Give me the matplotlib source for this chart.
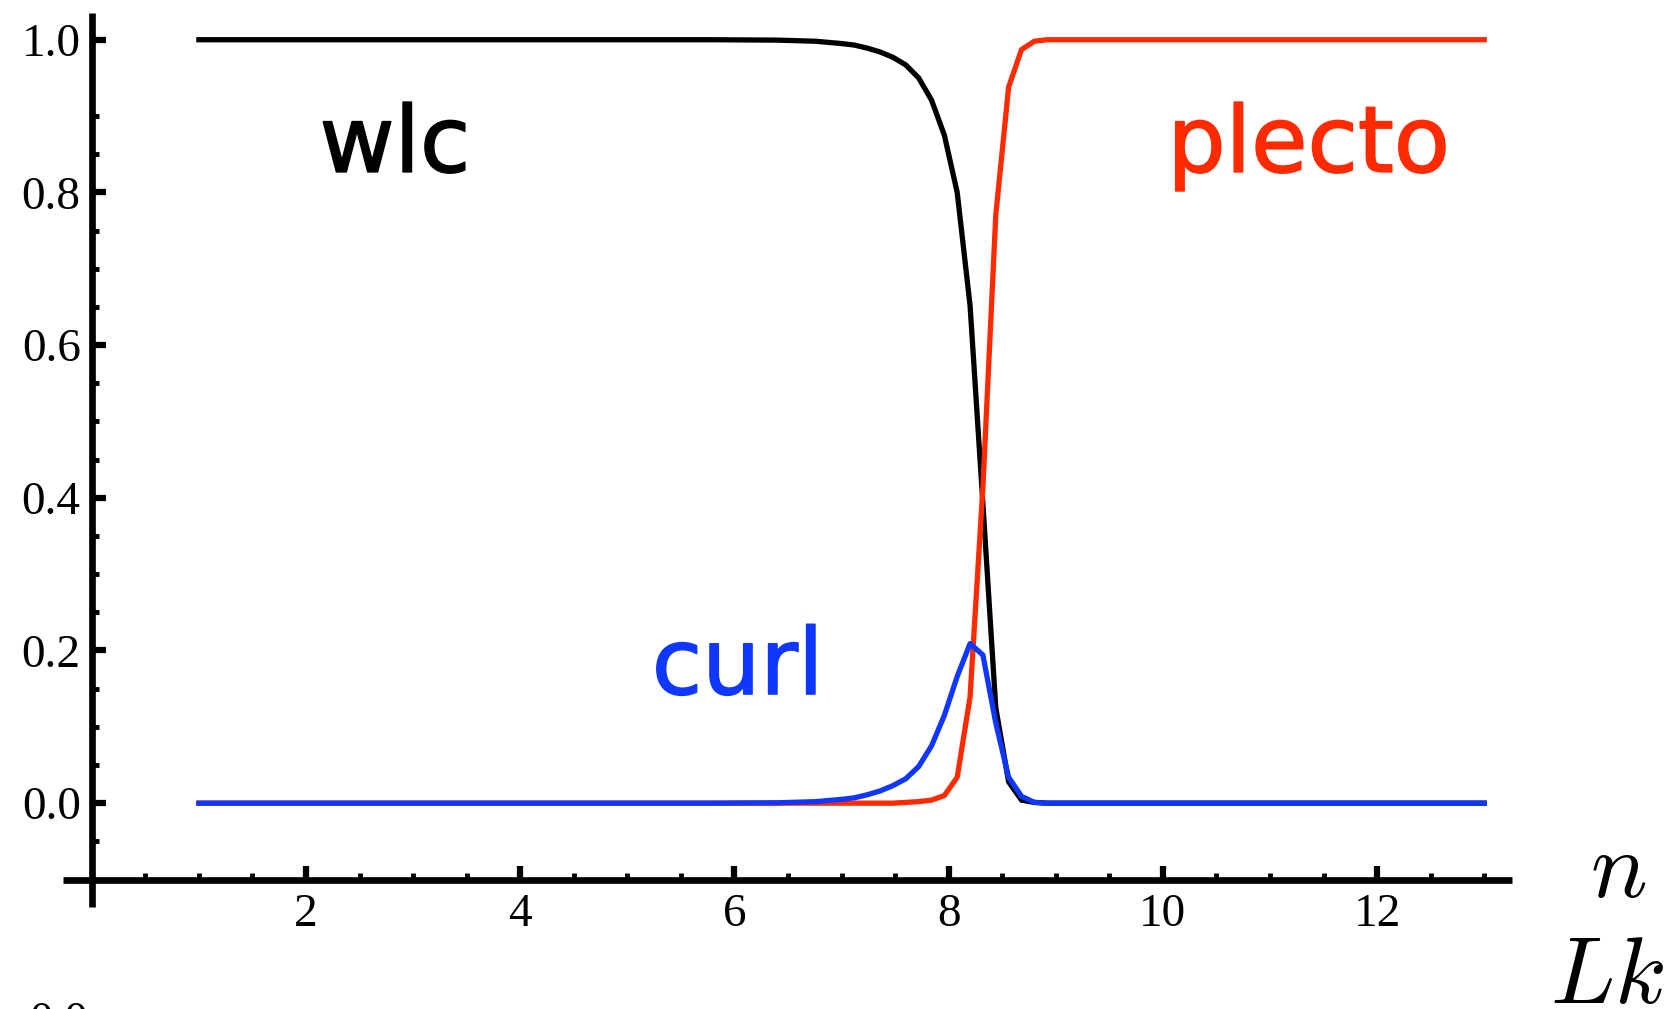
import matplotlib
matplotlib.use("Agg")
import matplotlib.pyplot as plt
import matplotlib.patheffects as pe
from matplotlib.ticker import FixedLocator, FormatStrFormatter

# linking number grid and the three state populations
lk = [1.0, 5.8, 6.4, 6.76, 7.0, 7.12, 7.24, 7.36, 7.48, 7.60, 7.72, 7.84,
      7.96, 8.08, 8.20, 8.32, 8.44, 8.56, 8.68, 8.80, 8.92, 13.0]
wlc = [1.0, 1.0, 0.9995, 0.998, 0.995, 0.993, 0.989, 0.984, 0.977, 0.967,
       0.950, 0.921, 0.875, 0.800, 0.652, 0.392, 0.125, 0.028, 0.004, 0.001,
       0.0, 0.0]
plecto = [0.0, 0.0, 0.0, 0.0, 0.0, 0.0, 0.0, 0.0, 0.0, 0.001, 0.002, 0.004,
          0.010, 0.034, 0.139, 0.414, 0.770, 0.938, 0.987, 0.998, 1.0, 1.0]
curl = [0.0, 0.0, 0.0005, 0.002, 0.005, 0.007, 0.011, 0.016, 0.023, 0.032,
        0.048, 0.075, 0.115, 0.166, 0.209, 0.194, 0.105, 0.034, 0.009, 0.001,
        0.0, 0.0]

xticks = [2, 4, 6, 8, 10, 12]
yticks = [0.0, 0.2, 0.4, 0.6, 0.8, 1.0]

red = '#ff2a00'
blue = '#0f37ff'

plt.rcParams['mathtext.fontset'] = 'cm'

fig = plt.figure(figsize=(16.75, 10.09), dpi=100)
ax = fig.add_axes([0.0376, 0.1011, 0.8651, 0.886])

ax.plot(lk, wlc, color='black', lw=3.8, zorder=3)
ax.plot(lk, plecto, color=red, lw=3.8, zorder=4)
ax.plot(lk, curl, color=blue, lw=3.8, zorder=5)

ax.set_xlim(-0.269, 13.26)
ax.set_ylim(-0.136, 1.035)

# axes cross at (0, -0.1) like a Mathematica plot
for s in ['top', 'right']:
    ax.spines[s].set_visible(False)
ax.spines['left'].set_position(('data', 0))
ax.spines['bottom'].set_position(('data', -0.1))
for s in ['left', 'bottom']:
    ax.spines[s].set_linewidth(4.8)
    ax.spines[s].set_capstyle('butt')

ax.xaxis.set_major_locator(FixedLocator(xticks))
ax.xaxis.set_minor_locator(FixedLocator([k * 0.5 for k in range(1, 27) if k % 4 != 0]))
ax.yaxis.set_major_locator(FixedLocator(yticks))
ax.yaxis.set_minor_locator(FixedLocator([round(-0.05 + k * 0.05, 2) for k in range(20)
                                         if round(-0.05 + k * 0.05, 2) not in yticks]))
ax.yaxis.set_major_formatter(FormatStrFormatter('%.1f'))

ax.tick_params(which='major', direction='in', length=10, width=4.5, pad=8)
ax.tick_params(which='minor', direction='in', length=5, width=3.5)
ax.tick_params(axis='x', which='major', pad=10)

for lab in ax.get_xticklabels() + ax.get_yticklabels():
    lab.set_fontfamily('Liberation Serif')
    lab.set_fontsize(34)

label_font = dict(family='DejaVu Sans', fontsize=66, ha='center', va='baseline')
ax.text(2.83, 0.827, 'wlc', color='black',
        path_effects=[pe.withStroke(linewidth=1.2, foreground='black')], **label_font)
ax.text(11.36, 0.827, 'plecto', color=red,
        path_effects=[pe.withStroke(linewidth=1.2, foreground=red)], **label_font)
ax.text(6.03, 0.143, 'curl', color=blue,
        path_effects=[pe.withStroke(linewidth=1.2, foreground=blue)], **label_font)

ax.text(14.25, -0.123, '$n$', fontsize=68, ha='center', va='baseline', clip_on=False)
ax.text(14.15, -0.262, '$Lk$', fontsize=68, ha='center', va='baseline', clip_on=False)

# stray label at the bottom edge, mostly cut off
fig.text(88 / 1675, -0.0248, '0.0', family='Liberation Serif', fontsize=34,
         ha='right', va='baseline')

fig.savefig('out.png', dpi=100)
